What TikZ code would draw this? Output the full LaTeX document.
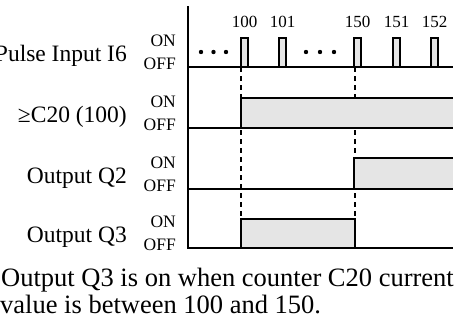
\documentclass[tikz,border=0pt]{standalone}
\usepackage{fontspec}
\setmainfont{Liberation Serif}
\usetikzlibrary{positioning}

\begin{document}
\begin{tikzpicture}[x=1pt,y=-1pt,
    lbl/.style={anchor=base east,inner sep=0pt,font=\fontsize{23.5}{24}\selectfont},
    onoff/.style={anchor=base east,inner sep=0pt,font=\fontsize{17.5}{18}\selectfont},
    cnt/.style={anchor=base,inner sep=0pt,font=\fontsize{17}{18}\selectfont},
    captext/.style={anchor=base west,inner sep=0pt,font=\fontsize{26.5}{27}\selectfont},
    wave/.style={line width=2.3pt},
    shade/.style={fill=black!10},
    baseln/.style={line width=2.6pt},
    marker/.style={line width=1.4pt,dash pattern=on 4.5pt off 4.5pt}]
  \useasboundingbox (0,0) rectangle (458,327);

  % markers at 100 and 150
  \draw[marker] (241,67) -- (241,248);
  \draw[marker] (355,67) -- (355,248);

  % counter pulses
  \foreach \x/\n in {241/100,279/101,354/150,393/151,431/152} {
    \draw[wave,shade] (\x,67) rectangle ++(7,-29);
    \node[cnt] (n\n) at (\x+3.5,27) {\n};
  }
  \foreach \x in {201,213.5,226,306,320,334}
    \fill (\x,52) circle (2.2);

  % >=C20 (100)
  \fill[shade] (241,128) rectangle (453,98);
  \draw[wave] (241,128) |- (453,98);
  % Q2
  \fill[shade] (354,189) rectangle (453,158);
  \draw[wave] (354,189) |- (453,158);
  % Q3
  \draw[wave,shade] (241,248) rectangle (355,219);

  % rows
  \foreach \y/\name/\txt in {67/pulse/Pulse Input I6,128/cmp/≥C20 (100),
                             189/qtwo/Output Q2,248/qthree/Output Q3} {
    \draw[baseln] (188,\y) -- (453,\y);
    \node[lbl] (\name) at (127,\y-5.5) {\txt};
    \node[onoff] (\name-on) at (176,\y-20.5) {ON};
    \node[onoff] (\name-off) at (176,\y+2.5) {OFF};
  }
  \draw[baseln] (188,6) -- (188,249.3);

  \node[captext] (cap1) at (1,286) {Output Q3 is on when counter C20 current};
  \node[captext] (cap2) at (0,313) {value is between 100 and 150.};
\end{tikzpicture}
\end{document}
